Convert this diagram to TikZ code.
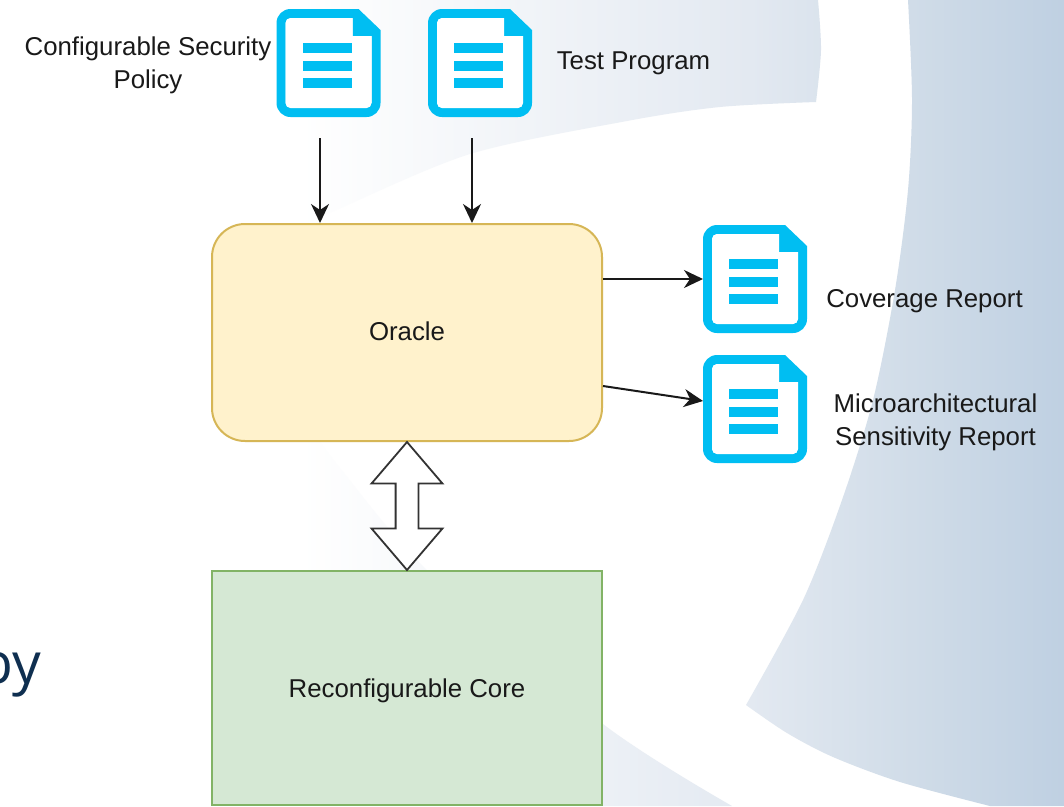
\documentclass[tikz,border=0pt]{standalone}
\usepackage{fontspec}
\setmainfont{Liberation Sans}
\newfontfamily\bigfont{Open Sans}
\usetikzlibrary{arrows.meta,shapes.arrows,calc}
\definecolor{cyanicon}{HTML}{00BEF2}
\definecolor{oraclefill}{HTML}{FFF2CC}
\definecolor{oracleline}{HTML}{D6B656}
\definecolor{corefill}{HTML}{D5E8D4}
\definecolor{coreline}{HTML}{82B366}
\definecolor{bandA}{HTML}{FFFFFF}
\definecolor{bandB}{HTML}{E3E9F1}
\definecolor{bandC}{HTML}{D0DCE8}
\definecolor{bandD}{HTML}{BFD0E2}
\definecolor{bigtext}{HTML}{0F2F50}
\pgfdeclarehorizontalshading{bandshade}{100bp}{color(0bp)=(bandA); color(25bp)=(bandA); color(54.45bp)=(bandB); color(65.05bp)=(bandC); color(75bp)=(bandD); color(100bp)=(bandD)}
\tikzset{
  lab/.style={font=\fontsize{25.8}{33}\selectfont, align=center, inner sep=0pt, text=black!90},
  docbox/.style={rectangle, minimum width=104pt, minimum height=108pt, inner sep=0pt, outer sep=0pt},
  flow/.style={line width=2pt, draw=black!90, -{Stealth[length=19pt,width=18pt,inset=6pt]}},
}
\newcommand{\docicon}[1]{%
  \begin{scope}[shift={(#1.north west)}]
    \fill[cyanicon, even odd rule]
      [rounded corners=14pt] (0,54) -- (0,0) [sharp corners] -- (82,0) -- (104,21) [rounded corners=14pt] -- (104,108) -- (0,108) -- cycle
      [rounded corners=5pt] (9,54) -- (9,9) [sharp corners] -- (76,9) -- (76,27) -- (95,27) [rounded corners=5pt] -- (95,99) -- (9,99) -- cycle;
    \fill[white]
      [rounded corners=5pt] (9,54) -- (9,9) [sharp corners] -- (76,9) -- (76,27) -- (95,27) [rounded corners=5pt] -- (95,99) -- (9,99) -- cycle;
    \fill[cyanicon] (26,34) rectangle (75,44);
    \fill[cyanicon] (26,51.5) rectangle (75,61.5);
    \fill[cyanicon] (26,68.5) rectangle (75,78.5);
  \end{scope}}
\begin{document}
\begin{tikzpicture}[x=1pt,y=-1pt]
\clip (0,0) rectangle (1064,806);
\fill[white] (0,0) rectangle (1064,806);
% background bands
\begin{scope}
  \clip (300,0) -- (818,0)
    -- plot[smooth] coordinates {(818,0) (821,50) (816,102)}
    -- plot[smooth] coordinates {(816,102) (720,107) (627,121) (470,154) (334,211) (300,226)}
    -- plot[smooth] coordinates {(300,415) (340,468) (427,570) (603,724) (732,806)}
    -- (300,806) -- cycle
    (908,0)
    -- plot[smooth] coordinates {(908,0) (912,100) (908,190) (895,290) (873,400) (842,500) (803,600) (746,705)}
    -- plot[smooth] coordinates {(746,705) (787,733) (833,757) (900,782) (990,806)}
    -- (1064,806) -- (1064,0) -- cycle;
  \shade[shading=bandshade] (300,0) rectangle (1064,806);
\end{scope}
% partial heading text
\node[anchor=base east, inner sep=0pt, text=bigtext, font=\bigfont\fontsize{57}{60}\selectfont] (head) at (41,683) {by};
% main blocks
\node[rectangle, rounded corners=33pt, draw=oracleline, fill=oraclefill, line width=2pt,
      minimum width=390pt, minimum height=217pt, inner sep=0pt, font=\fontsize{25.8}{33}\selectfont, text=black!90] (oracle) at (407,332.5) {\raisebox{-8pt}[0pt][0pt]{Oracle}};
\node[rectangle, draw=coreline, fill=corefill, line width=2pt,
      minimum width=390pt, minimum height=234pt, inner sep=0pt, font=\fontsize{25.8}{33}\selectfont, text=black!90] (core) at (407,688) {\raisebox{-9pt}[0pt][0pt]{Reconfigurable Core}};
% document icons
\node[docbox] (d1) at (328.5,63) {};
\node[docbox] (d2) at (480,63) {};
\node[docbox] (d3) at (755,279) {};
\node[docbox] (d4) at (755,409) {};
\docicon{d1}\docicon{d2}\docicon{d3}\docicon{d4}
% labels
\node[lab] (l1) at (148,65) {Configurable Security\\Policy};
\node[lab] (l2) at (633.5,63.5) {Test Program};
\node[lab] (l3) at (924.5,301.5) {Coverage Report};
\node[lab] (l4) at (935.5,422) {Microarchitectural\\Sensitivity Report};
% connectors
\coordinate (s1) at (320,138);
\coordinate (s2) at (472,138);
\draw[flow] (s1) -- (s1 |- oracle.north);
\draw[flow] (s2) -- (s2 |- oracle.north);
\draw[flow] (oracle.east |- d3.west) -- (d3.west);
\draw[flow] ($(oracle.east)+(0,53.5)$) -- ($(d4.west)+(0,-8)$);
% block double arrow between oracle and core
\node[double arrow, draw=black!80, fill=white, line width=1.8pt, rotate=90, inner sep=0pt, outer sep=0pt,
      minimum height=128pt, double arrow head extend=24pt,
      double arrow tip angle=81, text width=0pt, text height=21pt, text depth=0pt] (link) at ($(oracle.south)!0.5!(core.north)$) {};
\end{tikzpicture}
\end{document}
